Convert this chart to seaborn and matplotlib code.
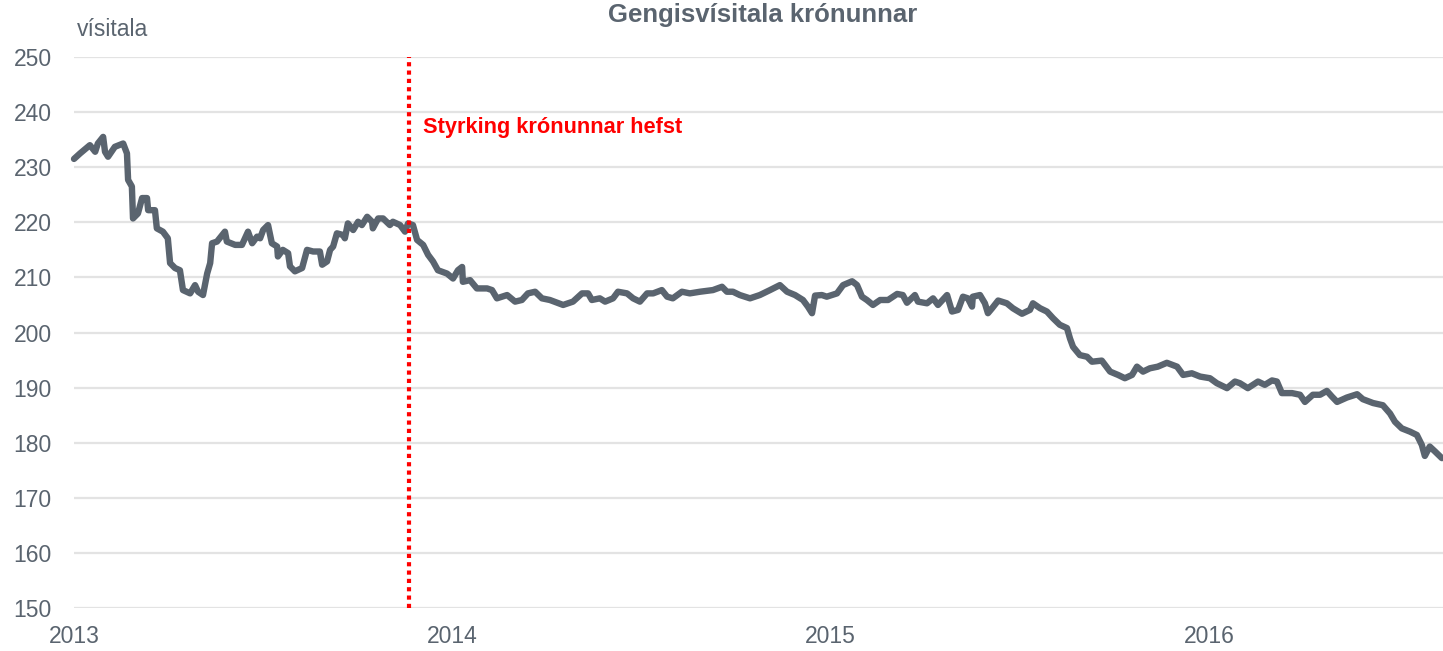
import pandas as pd
import matplotlib.pyplot as plt
import seaborn as sns

# ár frá byrjun 2013 (lesið af myndinni)
ar = [0.000, 0.016, 0.042, 0.056, 0.063, 0.077, 0.082, 0.090, 0.108, 0.130,
      0.140, 0.143, 0.153, 0.156, 0.169, 0.180, 0.193, 0.196, 0.214, 0.219,
      0.235, 0.248, 0.254, 0.267, 0.280, 0.288, 0.307, 0.320, 0.328, 0.341,
      0.352, 0.360, 0.365, 0.378, 0.399, 0.404, 0.426, 0.444, 0.460, 0.471,
      0.484, 0.492, 0.500, 0.513, 0.523, 0.537, 0.539, 0.552, 0.566, 0.571,
      0.584, 0.603, 0.616, 0.632, 0.650, 0.656, 0.669, 0.677, 0.685, 0.695,
      0.711, 0.716, 0.724, 0.738, 0.751, 0.761, 0.775, 0.788, 0.790, 0.804,
      0.817, 0.835, 0.843, 0.862, 0.875, 0.883, 0.896, 0.907, 0.923, 0.936,
      0.949, 0.962, 0.986, 1.002, 1.015, 1.026, 1.028, 1.047, 1.065, 1.092,
      1.105, 1.118, 1.145, 1.166, 1.184, 1.200, 1.219, 1.237, 1.258, 1.293,
      1.319, 1.343, 1.359, 1.369, 1.390, 1.404, 1.425, 1.438, 1.462, 1.478,
      1.496, 1.515, 1.531, 1.554, 1.568, 1.583, 1.607, 1.628, 1.655, 1.689,
      1.713, 1.726, 1.742, 1.760, 1.787, 1.813, 1.840, 1.866, 1.885, 1.906,
      1.927, 1.940, 1.951, 1.959, 1.977, 1.990, 2.017, 2.033, 2.057, 2.070,
      2.083, 2.096, 2.112, 2.131, 2.152, 2.176, 2.191, 2.202, 2.223, 2.231,
      2.255, 2.271, 2.284, 2.308, 2.321, 2.337, 2.350, 2.363, 2.374, 2.376,
      2.395, 2.408, 2.416, 2.427, 2.443, 2.466, 2.482, 2.506, 2.527, 2.535,
      2.554, 2.572, 2.588, 2.606, 2.625, 2.633, 2.641, 2.659, 2.678, 2.691,
      2.717, 2.739, 2.760, 2.778, 2.797, 2.810, 2.826, 2.844, 2.865, 2.889,
      2.916, 2.932, 2.955, 2.977, 3.003, 3.021, 3.048, 3.069, 3.082, 3.103,
      3.130, 3.148, 3.167, 3.180, 3.193, 3.220, 3.241, 3.254, 3.275, 3.294,
      3.312, 3.325, 3.339, 3.365, 3.392, 3.407, 3.434, 3.460, 3.479, 3.492,
      3.510, 3.532, 3.550, 3.563, 3.571, 3.584, 3.598, 3.616]

visitala = [231.5, 232.5, 234.0, 232.8, 234.3, 235.5, 232.8, 231.9, 233.7, 234.3,
            232.5, 227.7, 226.5, 220.7, 221.6, 224.4, 224.4, 222.2, 222.2, 218.9,
            218.3, 217.1, 212.6, 211.7, 211.3, 207.7, 207.1, 208.6, 207.4, 206.8,
            210.7, 212.6, 216.2, 216.5, 218.3, 216.5, 215.9, 215.9, 218.3, 216.2,
            217.4, 217.1, 218.6, 219.5, 216.2, 215.6, 213.8, 215.0, 214.4, 212.0,
            211.1, 211.7, 215.0, 214.7, 214.7, 212.3, 212.9, 215.0, 215.6, 218.0,
            217.7, 217.1, 219.8, 218.6, 220.1, 219.5, 221.0, 220.1, 218.9, 220.7,
            220.7, 219.5, 220.1, 219.5, 218.3, 219.8, 219.5, 216.8, 215.9, 214.1,
            212.9, 211.3, 210.7, 209.8, 211.3, 211.9, 209.2, 209.5, 208.0, 208.0,
            207.7, 206.2, 206.8, 205.6, 205.9, 207.1, 207.4, 206.2, 205.9, 205.0,
            205.6, 207.1, 207.1, 205.9, 206.2, 205.6, 206.2, 207.4, 207.1, 206.2,
            205.6, 207.1, 207.1, 207.7, 206.5, 206.2, 207.4, 207.1, 207.4, 207.7,
            208.3, 207.4, 207.4, 206.8, 206.2, 206.8, 207.7, 208.6, 207.4, 206.8,
            205.9, 204.7, 203.5, 206.7, 206.8, 206.5, 207.1, 208.6, 209.3, 208.6,
            206.5, 205.9, 205.0, 205.9, 205.9, 207.0, 206.8, 205.4, 206.8, 205.6,
            205.3, 206.2, 205.0, 206.8, 203.8, 204.1, 206.5, 206.2, 204.7, 206.5,
            206.8, 205.3, 203.5, 204.4, 205.8, 205.3, 204.4, 203.4, 204.1, 205.3,
            204.4, 203.8, 202.6, 201.4, 200.8, 198.9, 197.4, 195.9, 195.6, 194.7,
            194.9, 192.9, 192.3, 191.7, 192.3, 193.8, 192.9, 193.5, 193.8, 194.5,
            193.8, 192.3, 192.6, 192.0, 191.7, 190.8, 189.9, 191.1, 190.8, 189.9,
            191.1, 190.5, 191.3, 191.1, 189.0, 189.0, 188.7, 187.4, 188.7, 188.7,
            189.4, 188.4, 187.4, 188.2, 188.8, 187.9, 187.2, 186.8, 185.3, 183.8,
            182.6, 182.0, 181.4, 179.6, 177.6, 179.3, 178.4, 177.2]

ar_ticks = [2013, 2014, 2015, 2016]
y_ticks = [150, 160, 170, 180, 190, 200, 210, 220, 230, 240, 250]
styrking_hefst = 2013.886

GRAY = "#5a646f"

def main():
    df = pd.DataFrame({"ar": [2013 + a for a in ar], "visitala": visitala})

    sns.set_style("white")
    plt.rcParams["font.family"] = ["Liberation Sans", "DejaVu Sans"]

    fig = plt.figure(figsize=(14.43, 6.51), dpi=100)
    ax = fig.add_axes([74 / 1443, 1 - 608 / 651, 1 - 74 / 1443, (608 - 57) / 651])

    for yv in y_ticks:
        ax.axhline(yv, color="#e3e3e3", lw=1.6, zorder=0)

    sns.lineplot(data=df, x="ar", y="visitala", ax=ax, color=GRAY, lw=4.6,
                 solid_joinstyle="round", solid_capstyle="round", clip_on=False)

    ax.axvline(styrking_hefst, color="#ff0000", lw=3, linestyle=(0, (1, 1)),
               dash_capstyle="butt", zorder=3)
    ax.text(2013.922, 236.2, "Styrking krónunnar hefst", color="#ff0000",
            fontsize=15.7, fontweight="bold", va="baseline", ha="left")

    ax.set_xlim(2013, 2013 + ar[-1] + 0.003)
    ax.set_ylim(150, 250)
    ax.set_xticks(ar_ticks)
    ax.set_xticklabels([str(t) for t in ar_ticks])
    ax.set_yticks(y_ticks)
    ax.tick_params(axis="both", length=0, labelsize=16.5, labelcolor=GRAY)
    ax.tick_params(axis="y", pad=16)
    ax.tick_params(axis="x", pad=12)
    ax.set_xlabel("")
    ax.set_ylabel("")
    sns.despine(ax=ax, left=True, bottom=True)

    fig.text(77 / 1443, 1 - 36 / 651, "vísitala", fontsize=16.5, color=GRAY,
             va="baseline", ha="left")
    fig.text(763 / 1443, 1 - 22 / 651, "Gengisvísitala krónunnar", fontsize=18.5,
             fontweight="bold", color=GRAY, va="baseline", ha="center")

    fig.savefig("out.png", dpi=100)


if __name__ == '__main__':
    main()
